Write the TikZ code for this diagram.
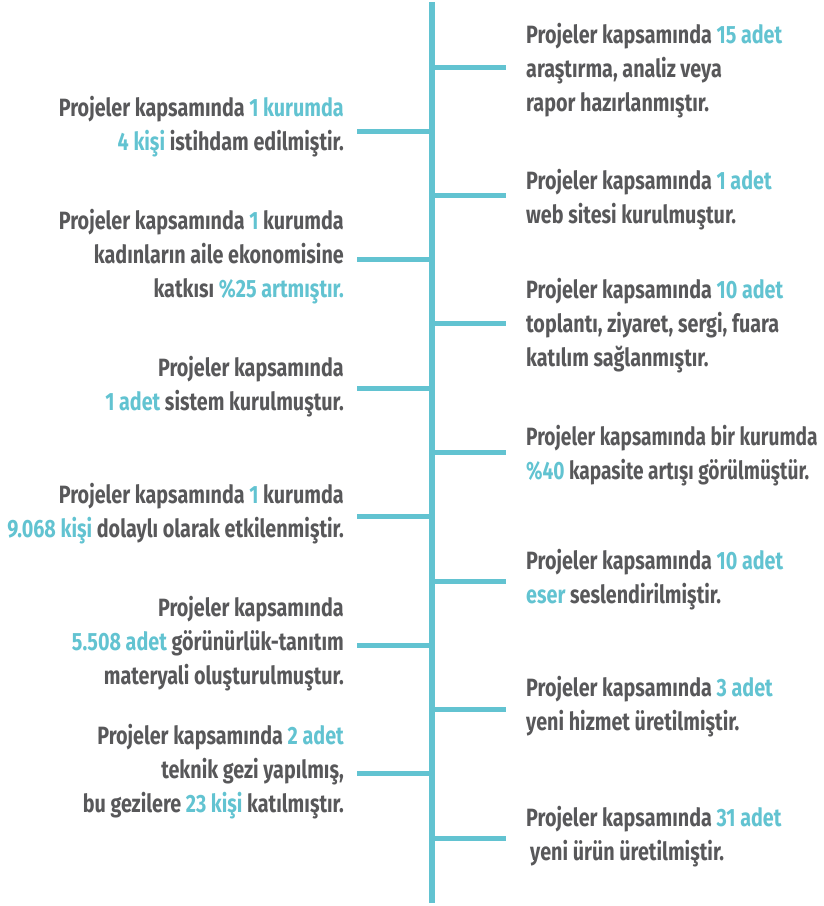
\documentclass[tikz,border=0pt]{standalone}
\usepackage{fontspec}
\newfontfamily\condfont[FakeStretch=0.79]{Fira Sans}
\newfontfamily\condfontn[FakeStretch=0.765]{Fira Sans}
\definecolor{tealc}{HTML}{62C3D1}
\definecolor{grayt}{HTML}{58585A}
\newcommand\hl[1]{\textcolor{tealc}{#1}}
\tikzset{
  spine/.style={draw=tealc, line width=5.5pt},
  tick/.style={draw=tealc, line width=5pt},
  ltext/.style={anchor=east, align=right, inner sep=0pt, text=grayt,
    font=\condfont\bfseries\fontsize{25}{34}\selectfont},
  rtext/.style={anchor=west, align=left, inner sep=0pt, text=grayt,
    font=\condfont\bfseries\fontsize{25}{34}\selectfont},
  narrow/.style={font=\condfontn\bfseries\fontsize{25}{34}\selectfont},
}
\begin{document}
\begin{tikzpicture}[x=1pt,y=-1pt]
\useasboundingbox (0,0) rectangle (824,906);
% spine
\coordinate (top) at (432,2);
\coordinate (bot) at (432,903);
\draw[spine] (top) -- (bot);
% right ticks
\foreach \n/\y in {r1/67, r2/195, r3/323, r4/452, r5/581, r6/709, r7/838}{
  \coordinate (\n s) at (432,\y);
  \coordinate (\n e) at (506,\y);
  \draw[tick] (\n s) -- (\n e);
}
% left ticks
\foreach \n/\y in {l1/131, l2/259, l3/388, l4/516, l5/645, l6/773}{
  \coordinate (\n s) at (432,\y);
  \coordinate (\n e) at (357,\y);
  \draw[tick] (\n s) -- (\n e);
}
% right texts
\node[rtext] (t1) at (526,71) {Projeler kapsamında \hl{15 adet}\\araştırma, analiz veya\\rapor hazırlanmıştır.};
\node[rtext] (t2) at (526,200) {Projeler kapsamında \hl{1 adet}\\web sitesi kurulmuştur.};
\node[rtext] (t3) at (526,326) {Projeler kapsamında \hl{10 adet}\\toplantı, ziyaret, sergi, fuara\\katılım sağlanmıştır.};
\node[rtext, narrow] (t4) at (526,456) {Projeler kapsamında bir kurumda\\\hl{\%40} kapasite artışı görülmüştür.};
\node[rtext] (t5) at (526,580) {Projeler kapsamında \hl{10 adet}\\\hl{eser} seslendirilmiştir.};
\node[rtext] (t6) at (526,707) {Projeler kapsamında \hl{3 adet}\\yeni hizmet üretilmiştir.};
\node[rtext] (t7) at (526,837) {Projeler kapsamında \hl{31 adet}\\\hspace*{4pt}yeni ürün üretilmiştir.};
% left texts
\node[ltext] (s1) at (344,127) {Projeler kapsamında \hl{1 kurumda}\\\hl{4 kişi} istihdam edilmiştir.};
\node[ltext] (s2) at (344,257) {Projeler kapsamında \hl{1} kurumda\\kadınların aile ekonomisine\\katkısı \hl{\%25 artmıştır.}};
\node[ltext] (s3) at (344,387) {Projeler kapsamında\\\hl{1 adet} sistem kurulmuştur.};
\node[ltext] (s4) at (344,514) {Projeler kapsamında \hl{1} kurumda\\\hl{9.068 kişi} dolaylı olarak etkilenmiştir.};
\node[ltext] (s5) at (344,644) {Projeler kapsamında\\\hl{5.508 adet} görünürlük-tanıtım\\materyali oluşturulmuştur.};
\node[ltext] (s6) at (344,772) {Projeler kapsamında \hl{2 adet}\\teknik gezi yapılmış,\\bu gezilere \hl{23 kişi} katılmıştır.};
\end{tikzpicture}
\end{document}
